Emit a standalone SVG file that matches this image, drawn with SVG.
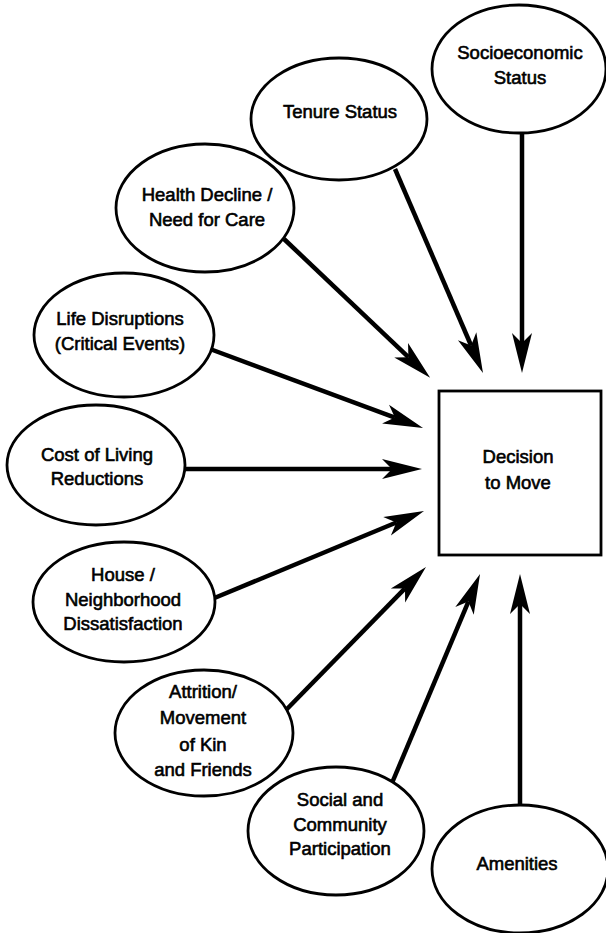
<svg xmlns="http://www.w3.org/2000/svg" width="606" height="933" viewBox="0 0 606 933">
<style>
.n ellipse, .n rect { fill: #fff; stroke: #000; stroke-width: 2.8; }
.n text { font-family: "Liberation Sans", Arial, sans-serif; font-size: 18.5px; fill: #000; stroke: #000; stroke-width: 0.6; text-anchor: middle; }
.c line { stroke: #000; stroke-width: 4.5; stroke-linecap: butt; marker-end: url(#ah); }
</style>
<defs>
<marker id="ah" markerUnits="userSpaceOnUse" viewBox="-12 -11 44 22" refX="0" refY="0" markerWidth="44" markerHeight="22" orient="auto" overflow="visible">
<path d="M30,0 L-10,-10 L0,0 L-10,10 Z" fill="#000"/>
</marker>
</defs>
<rect width="606" height="933" fill="#fff"/>
<g id="connectors" class="c">
<line x1="522" y1="133" x2="522" y2="343"/>
<line x1="395" y1="169" x2="471.1" y2="345.5"/>
<line x1="284" y1="239" x2="408.4" y2="357.2"/>
<line x1="210" y1="349" x2="394.9" y2="417.6"/>
<line x1="183" y1="469" x2="392" y2="469"/>
<line x1="212" y1="599" x2="396.3" y2="522.5"/>
<line x1="286" y1="710" x2="405" y2="588.4"/>
<line x1="392" y1="783" x2="468.4" y2="601.6"/>
<line x1="520" y1="806" x2="520" y2="604"/>
</g>
<g id="socioeconomic" class="n">
<ellipse cx="519" cy="69" rx="87" ry="64"/>
<text x="520" y="59">Socioeconomic</text>
<text x="520" y="84">Status</text>
</g>
<g id="tenure" class="n">
<ellipse cx="339" cy="119" rx="88" ry="61"/>
<text x="340" y="118">Tenure Status</text>
</g>
<g id="health" class="n">
<ellipse cx="205" cy="208" rx="89" ry="64"/>
<text x="207" y="201">Health Decline /</text>
<text x="207" y="226">Need for Care</text>
</g>
<g id="life" class="n">
<ellipse cx="124" cy="335" rx="90" ry="62"/>
<text x="120" y="325">Life Disruptions</text>
<text x="120" y="350">(Critical Events)</text>
</g>
<g id="cost" class="n">
<ellipse cx="96" cy="465" rx="89" ry="60"/>
<text x="97" y="461">Cost of Living</text>
<text x="97" y="485">Reductions</text>
</g>
<g id="house" class="n">
<ellipse cx="124" cy="602" rx="91" ry="60"/>
<text x="123" y="581">House /</text>
<text x="123" y="606">Neighborhood</text>
<text x="123" y="630">Dissatisfaction</text>
</g>
<g id="attrition" class="n">
<ellipse cx="204" cy="733" rx="89" ry="63"/>
<text x="203" y="698">Attrition/</text>
<text x="203" y="724">Movement</text>
<text x="203" y="751">of Kin</text>
<text x="203" y="776">and Friends</text>
</g>
<g id="social" class="n">
<ellipse cx="336" cy="831" rx="88" ry="64"/>
<text x="340" y="806">Social and</text>
<text x="340" y="831">Community</text>
<text x="340" y="855">Participation</text>
</g>
<g id="amenities" class="n">
<ellipse cx="520" cy="869" rx="88" ry="64"/>
<text x="517" y="870">Amenities</text>
</g>
<g id="decision" class="n">
<rect x="439" y="391" width="162" height="164"/>
<text x="518" y="463">Decision</text>
<text x="518" y="489">to Move</text>
</g>
</svg>
